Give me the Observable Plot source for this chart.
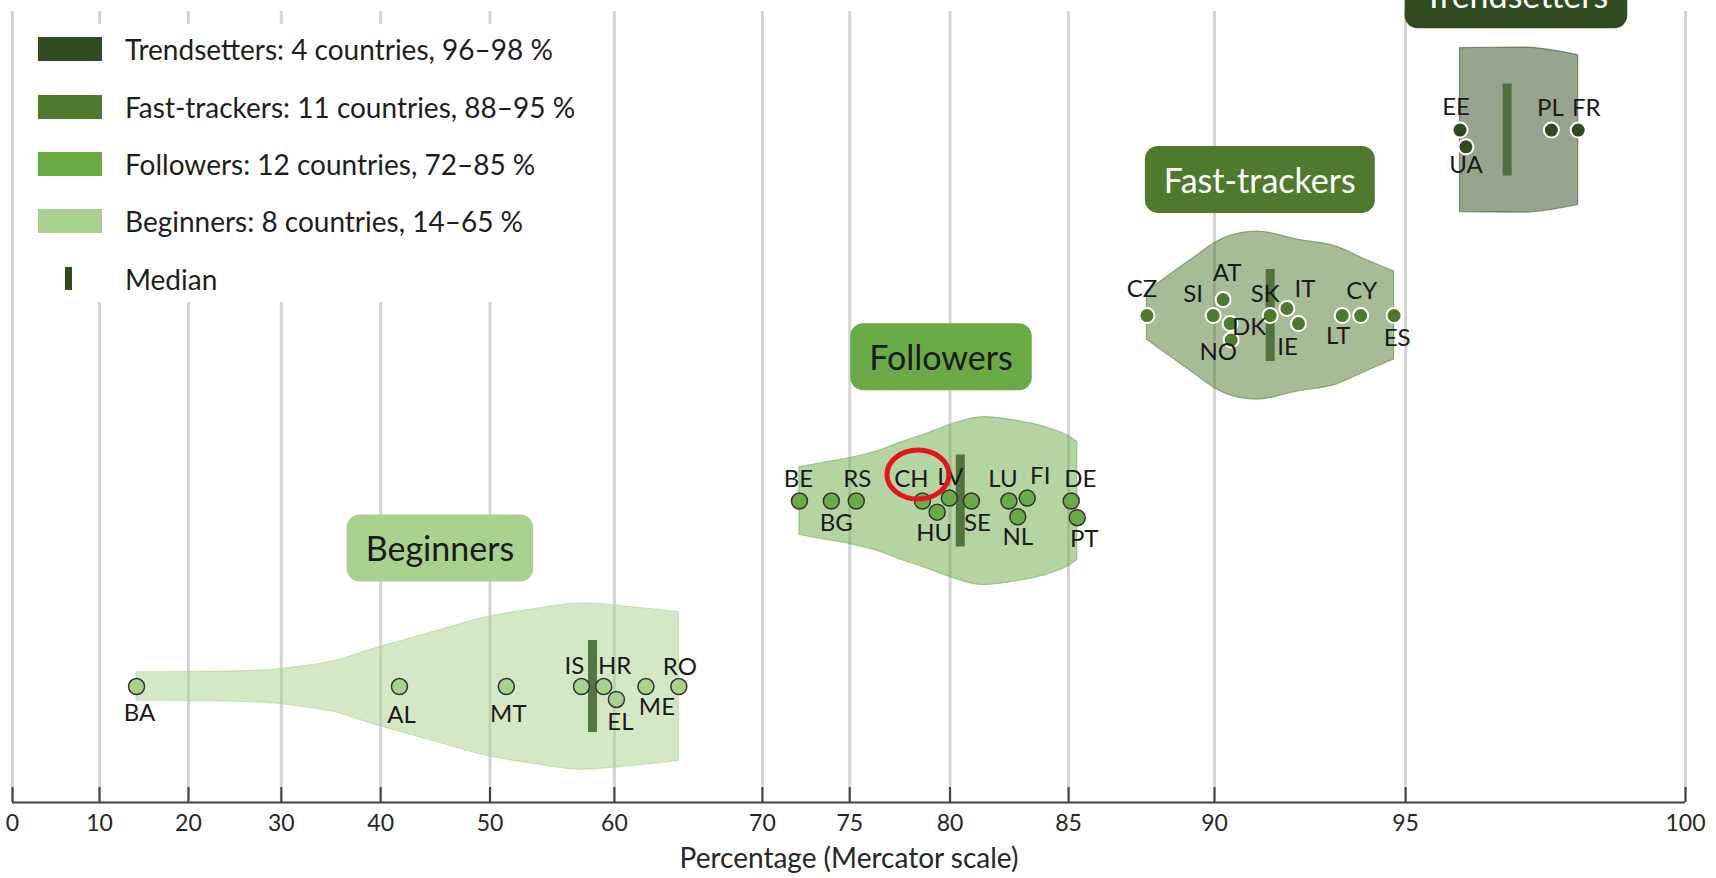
<!DOCTYPE html>
<html><head><meta charset="utf-8">
<script src="https://cdn.jsdelivr.net/npm/d3@7"></script>
<script src="https://cdn.jsdelivr.net/npm/@observablehq/plot@0.6"></script>
<style>
body{margin:0;background:#fff;}
#wrap{position:relative;width:1716px;height:878px;overflow:hidden;font-family:Lato,"Open Sans",sans-serif;}
#legend{position:absolute;left:20px;top:24px;width:570px;height:278px;background:#fff;}
.lrow{position:absolute;left:0;height:30px;font-size:28px;color:#1e1e1e;white-space:nowrap;}
.sw{position:absolute;left:18px;width:64px;height:24px;}
.lt{position:absolute;left:105px;top:0;line-height:30px;}
</style></head><body><div id="wrap"></div>
<script>
// ---------- data ----------
const groups = ["Beginners", "Followers", "Fast-trackers", "Trendsetters"];
const groupColors = ["#a9d18e", "#6aab46", "#4f7a2e", "#2f4b1f"];
const groupTextColors = ["#1a1a1a", "#1a1a1a", "#ffffff", "#ffffff"];
const legendTexts = [
  "Trendsetters: 4 countries, 96–98 %",
  "Fast-trackers: 11 countries, 88–95 %",
  "Followers: 12 countries, 72–85 %",
  "Beginners: 8 countries, 14–65 %"
];
const medianLegendText = "Median";
const tickValues = [0, 10, 20, 30, 40, 50, 60, 70, 75, 80, 85, 90, 95, 100];
const axisTitle = "Percentage (Mercator scale)";

const beginnersCountries = ["BA", "AL", "MT", "IS", "HR", "EL", "ME", "RO"];
const beginnersValues = [14.2, 41.8, 51.4, 57.5, 59.2, 60.15, 62.3, 64.6];
const beginnersJitter = [0, 0, 0, 0, 0, -0.07, 0, 0];

const followersCountries = ["BE", "BG", "RS", "CH", "HU", "LV", "SE", "LU", "NL", "FI", "DE", "PT"];
const followersValues = [72.2, 74.0, 75.35, 78.7, 79.4, 79.97, 80.97, 82.6, 82.97, 83.36, 85.1, 85.33];
const followersJitter = [0, 0, 0, 0, -0.06, 0.016, 0, 0, -0.085, 0.016, 0, -0.09];

const fastCountries = ["CZ", "SI", "AT", "DK", "NO", "SK", "IT", "IE", "LT", "CY", "ES"];
const fastValues = [87.83, 89.96, 90.26, 90.47, 90.5, 91.62, 92.08, 92.39, 93.51, 93.96, 94.74];
const fastJitter = [0, 0, 0.086, -0.043, -0.132, 0, 0.038, -0.043, 0, 0, 0];

const trendCountries = ["EE", "UA", "PL", "FR"];
const trendValues = [96.16, 96.28, 97.89, 98.35];
const trendJitter = [0, -0.09, 0, 0];

// violin outlines (percentage, half-width in row units)
const beginnersViolinP = [14.2, 20, 25, 28.6, 32, 35.7, 38, 41, 45, 49.5, 54, 57.4, 61, 64.6];
const beginnersViolinW = [0.077, 0.078, 0.082, 0.088, 0.108, 0.14, 0.18, 0.23, 0.295, 0.37, 0.42, 0.449, 0.43, 0.401];
const followersViolinP = [72.2, 73.5, 75, 76.5, 77.7, 79, 80, 81.5, 83, 84.3, 85, 85.33];
const followersViolinW = [0.183, 0.205, 0.232, 0.27, 0.318, 0.367, 0.41, 0.453, 0.431, 0.39, 0.35, 0.318];
const fastViolinP = [87.83, 88.6, 89.35, 90, 90.47, 91.27, 92.35, 93.36, 94.1, 94.74];
const fastViolinW = [0.13, 0.22, 0.31, 0.39, 0.43, 0.453, 0.41, 0.372, 0.30, 0.237];
const trendViolinP = [96.16, 96.8, 97.45, 97.9, 98.35];
const trendViolinW = [0.442, 0.444, 0.445, 0.43, 0.404];

// group label anchors (percentage) and lift above each row (row units)
const groupLabelX = [45.56, 79.58, 91.33, 97.25];
const groupLabelLift = [0.733, 0.764, 0.72, 0.716];

// country label nudges [dx, dy] in px
const labelNudge = {
  BA:[3,27], AL:[2,29], MT:[2,28], IS:[-7,-20], HR:[11,-20], EL:[4,23], ME:[11,21], RO:[1,-19],
  BE:[-1,-22], BG:[5,22], RS:[1,-22], CH:[-11,-22], HU:[-3,21], LV:[1,-21], SE:[6,22], LU:[-6,-22],
  NL:[0,21], FI:[13,-22], DE:[9,-22], PT:[7,22],
  CZ:[-5,-26], SI:[-20,-21], AT:[4,-26], DK:[19,4], NO:[-13,12], SK:[-5,-21], IT:[18,-19],
  IE:[-11,24], LT:[-4,21], CY:[1,-24], ES:[3,23],
  EE:[-4,-23], UA:[0,19], PL:[-1,-22], FR:[8,-22]
};

// ---------- scales ----------
const PHI_MAX = 83 * Math.PI / 180;
const merc = p => Math.log(Math.tan(Math.PI / 4 + (p / 100) * PHI_MAX / 2));
const Y_MIN = -0.6254, Y_MAX = 3.6395;
const tickLabel = new Map(tickValues.map(t => [merc(t), String(t)]));

const countries = [beginnersCountries, followersCountries, fastCountries, trendCountries];
const values = [beginnersValues, followersValues, fastValues, trendValues];
const jitters = [beginnersJitter, followersJitter, fastJitter, trendJitter];
const violinP = [beginnersViolinP, followersViolinP, fastViolinP, trendViolinP];
const violinW = [beginnersViolinW, followersViolinW, fastViolinW, trendViolinW];

const dots = [];
groups.forEach((g, gi) => countries[gi].forEach((c, i) => dots.push({
  group: g, gi, country: c, x: merc(values[gi][i]), y: gi + jitters[gi][i], fill: groupColors[gi]
})));
const violins = [];
groups.forEach((g, gi) => violinP[gi].forEach((p, i) => violins.push({
  group: g, x: merc(p), y1: gi - violinW[gi][i], y2: gi + violinW[gi][i], color: groupColors[gi]
})));
const medians = groups.map((g, gi) => ({group: g, x: merc(d3.median(values[gi])), gi}));
const groupLabels = groups.map((g, gi) => ({text: g, x: merc(groupLabelX[gi]), y: gi + groupLabelLift[gi], color: groupTextColors[gi], gi}));

const unitPx = (802 - 11) / (Y_MAX - Y_MIN);

const labelMarks = dots.map(d => Plot.text([d], {
  x: "x", y: "y", text: "country", dx: labelNudge[d.country][0], dy: labelNudge[d.country][1],
  fontSize: 24, fill: "#1a1a1a"
}));

const plot = Plot.plot({
  width: 1716, height: 878,
  marginLeft: 12, marginRight: 31, marginTop: 11, marginBottom: 76,
  style: {fontFamily: "Lato, 'Open Sans', sans-serif", fontSize: "23px", color: "#262626", background: "transparent"},
  x: {domain: [merc(0), merc(100)], ticks: tickValues.map(merc), tickFormat: d => tickLabel.get(d), tickSize: 0, tickPadding: 12, label: null},
  y: {domain: [Y_MIN, Y_MAX], axis: null},
  color: {type: "identity"},
  marks: [
    Plot.ruleX(tickValues, {x: merc, stroke: "#d4d4d4", strokeWidth: 3}),
    Plot.areaY(violins, {x: "x", y1: "y1", y2: "y2", z: "group", fill: "color", fillOpacity: 0.5, stroke: "color", strokeOpacity: 0.55, strokeWidth: 1.2, curve: "monotone-x"}),
    Plot.ruleX(medians, {x: "x", y1: d => d.gi - 0.248, y2: d => d.gi + 0.248, stroke: "#4a6b36", strokeWidth: 9, strokeOpacity: 0.92}),
    Plot.dot(dots.filter(d => d.gi < 2), {x: "x", y: "y", r: 8, fill: "fill", stroke: "#333333", strokeWidth: 1.5}),
    Plot.dot(dots.filter(d => d.gi >= 2), {x: "x", y: "y", r: 7.5, fill: "fill", stroke: "#ffffff", strokeWidth: 2}),
    ...labelMarks,
    Plot.text(groupLabels, {x: "x", y: "y", text: "text", fill: "color", fontSize: 34}),
    Plot.ruleY([Y_MIN], {stroke: "#404040", strokeWidth: 2}),
    Plot.ruleX(tickValues, {x: merc, y1: Y_MIN, y2: Y_MIN + 15 / unitPx, stroke: "#404040", strokeWidth: 2}),
    Plot.text([axisTitle], {frameAnchor: "bottom", dy: 65, fontSize: 28, fill: "#262626"})
  ]
});
const wrap = document.getElementById("wrap");
wrap.appendChild(plot);

// rounded boxes behind group labels
d3.select(plot).selectAll("text").filter(function() { return groups.includes(this.textContent); }).each(function() {
  const gi = groups.indexOf(this.textContent);
  const b = this.getBBox();
  const pad = 19, h = 67;
  const rect = document.createElementNS("http://www.w3.org/2000/svg", "rect");
  rect.setAttribute("x", b.x - pad);
  rect.setAttribute("y", b.y + b.height / 2 - h / 2);
  rect.setAttribute("width", b.width + 2 * pad);
  rect.setAttribute("height", h);
  rect.setAttribute("rx", 13);
  rect.setAttribute("fill", groupColors[gi]);
  const tr = this.getAttribute("transform");
  if (tr) rect.setAttribute("transform", tr);
  this.parentNode.insertBefore(rect, this);
});

// red highlight ellipse around CH
const xs = plot.scale("x"), ys = plot.scale("y");
const ch = dots.find(d => d.country === "CH");
d3.select(plot).append("ellipse")
  .attr("cx", xs.apply(ch.x) - 4).attr("cy", ys.apply(ch.y) - 26)
  .attr("rx", 31).attr("ry", 24.5)
  .attr("fill", "none").attr("stroke", "#e3141b").attr("stroke-width", 5);

// legend
const legend = document.createElement("div");
legend.id = "legend";
const rowTops = [25, 83, 140, 197, 255];
legendTexts.forEach((t, i) => {
  const row = document.createElement("div");
  row.className = "lrow";
  row.style.top = (rowTops[i] - 15) + "px";
  row.innerHTML = `<div class="sw" style="background:${groupColors[3 - i]};top:3px"></div><div class="lt">${t}</div>`;
  legend.appendChild(row);
});
const mrow = document.createElement("div");
mrow.className = "lrow";
mrow.style.top = (rowTops[4] - 15) + "px";
mrow.innerHTML = `<div class="sw" style="background:#2f4b1f;left:45px;width:7px;height:23px;top:3px"></div><div class="lt">${medianLegendText}</div>`;
legend.appendChild(mrow);
wrap.appendChild(legend);
</script>
</body></html>
